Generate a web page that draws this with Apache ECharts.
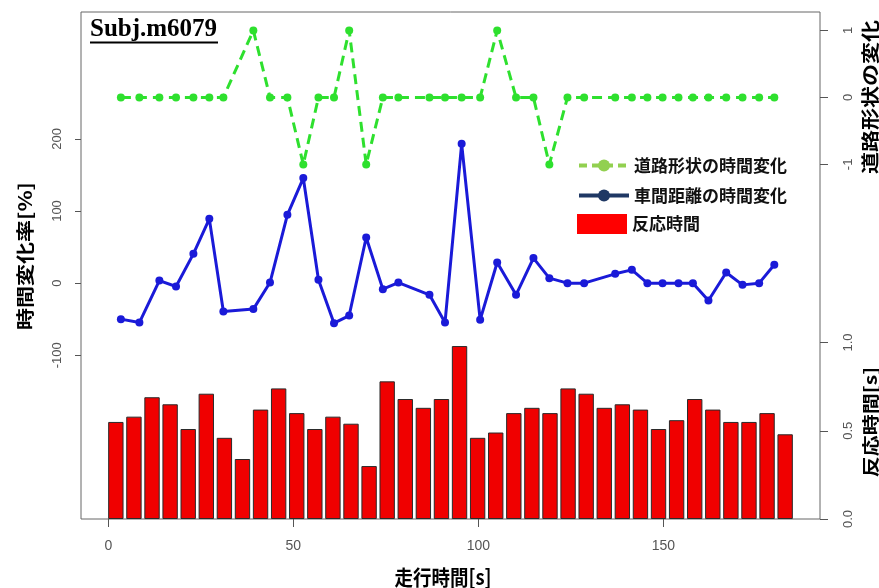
<!DOCTYPE html>
<html>
<head>
<meta charset="utf-8">
<script src="https://cdn.jsdelivr.net/npm/echarts@6/dist/echarts.min.js"></script>
<style>
  html, body { margin: 0; padding: 0; background: #fff; }
  #chart { width: 879px; height: 588px; }
</style>
</head>
<body>
<div id="chart"></div>
<script>
// Elapsed driving time of each sample [s]
const runTime = [3.4, 8.4, 13.8, 18.3, 23.0, 27.3, 31.1, 39.2, 43.7, 48.4,
  52.7, 56.8, 61.0, 65.1, 69.7, 74.2, 78.4, 86.8, 91.0, 95.5,
  100.5, 105.1, 110.2, 114.9, 119.2, 124.1, 128.6, 137.0, 141.5, 145.7,
  149.8, 154.1, 158.0, 162.2, 167.0, 171.4, 175.9, 180.0];

// Change of road shape (-1 / 0 / 1)
const roadShapeChange = [0, 0, 0, 0, 0, 0, 0, 1, 0, 0,
  -1, 0, 0, 1, -1, 0, 0, 0, 0, 0,
  0, 1, 0, 0, -1, 0, 0, 0, 0, 0,
  0, 0, 0, 0, 0, 0, 0, 0];

// Rate of change of headway distance [%]
const headwayChangeRate = [-49.9, -54.6, 3.6, -4.7, 40.6, 89.1, -39.4, -36.0, 0.8, 94.7,
  145.6, 4.6, -55.5, -44.9, 63.2, -8.3, 0.8, -16.2, -54.6, 193.1,
  -50.9, 28.6, -16.2, 34.7, 6.9, 0, 0, 12.9, 18.4, 0,
  0, 0, 0, -24.1, 14.7, -2.4, 0, 25.4];

// Reaction time per event [s]
const eventNo = ['1', '2', '3', '4', '5', '6', '7', '8', '9', '10',
  '11', '12', '13', '14', '15', '16', '17', '18', '19', '20',
  '21', '22', '23', '24', '25', '26', '27', '28', '29', '30',
  '31', '32', '33', '34', '35', '36', '37', '38'];
const reactionTime = [0.55, 0.58, 0.69, 0.65, 0.51, 0.71, 0.46, 0.34, 0.62, 0.74,
  0.60, 0.51, 0.58, 0.54, 0.30, 0.78, 0.68, 0.63, 0.68, 0.98,
  0.46, 0.49, 0.60, 0.63, 0.60, 0.74, 0.71, 0.63, 0.65, 0.62,
  0.51, 0.56, 0.68, 0.62, 0.55, 0.55, 0.60, 0.48];

// Tick positions
const timeTicks = [0, 50, 100, 150];
const rateTicks = [-100, 0, 100, 200];
const roadTicks = [-1, 0, 1];
const reactionTicks = [0, 0.5, 1.0];

const NAME_ROAD = '道路形状の時間変化';
const NAME_HEADWAY = '車間距離の時間変化';
const NAME_REACTION = '反応時間';

const tickFont = { fontFamily: '"Liberation Sans", Arial, sans-serif', fontSize: 13, color: '#555' };
const tickLine = { color: '#555', width: 1 };
const jpBold = '"Noto Sans CJK JP", sans-serif';
const hiddenLine = { show: false, onZero: false };

const chart = echarts.init(document.getElementById('chart'), null, { renderer: 'canvas' });

chart.setOption({
  animation: false,
  backgroundColor: '#fff',
  grid: [
    { left: 81, right: 59, top: 12, bottom: 69, show: true, borderColor: '#666', borderWidth: 1,
      containLabel: false, outerBoundsMode: 'none' },
    { left: 106.8, right: 84.8, top: 12, bottom: 69, containLabel: false, outerBoundsMode: 'none' }
  ],
  xAxis: [
    {
      type: 'value', gridIndex: 0, position: 'bottom', min: -7.38, max: 192.35,
      axisLine: hiddenLine,
      splitLine: { show: false },
      axisTick: { customValues: timeTicks, length: 8, lineStyle: tickLine },
      axisLabel: { customValues: timeTicks, margin: 20, fontSize: 14,
        fontFamily: tickFont.fontFamily, color: tickFont.color }
    },
    {
      type: 'category', gridIndex: 1, data: eventNo, boundaryGap: true, show: false
    }
  ],
  yAxis: [
    {
      type: 'value', gridIndex: 0, position: 'left', min: -326.9, max: 375.8,
      axisLine: hiddenLine,
      splitLine: { show: false },
      axisTick: { customValues: rateTicks, length: 6, lineStyle: tickLine },
      axisLabel: Object.assign({ customValues: rateTicks, rotate: 90, margin: 17 }, tickFont)
    },
    {
      type: 'value', gridIndex: 0, position: 'right', min: -6.296, max: 1.276,
      axisLine: hiddenLine,
      splitLine: { show: false },
      axisTick: { customValues: roadTicks, length: 8, lineStyle: tickLine },
      axisLabel: Object.assign({ customValues: roadTicks, rotate: 90, margin: 22 }, tickFont)
    },
    {
      type: 'value', gridIndex: 0, position: 'right', min: 0, max: 2.873,
      axisLine: hiddenLine,
      splitLine: { show: false },
      axisTick: { customValues: reactionTicks, length: 8, lineStyle: tickLine },
      axisLabel: Object.assign({ customValues: reactionTicks, rotate: 90, margin: 22,
        formatter: v => Number(v).toFixed(1) }, tickFont)
    },
    {
      type: 'value', gridIndex: 1, min: 0, max: 2.873, show: false
    }
  ],
  legend: [
    {
      data: [
        { name: NAME_ROAD, itemStyle: { color: '#92d050' }, lineStyle: { color: '#92d050', width: 4, type: [8, 5] } },
        { name: NAME_HEADWAY, itemStyle: { color: '#1f3864' }, lineStyle: { color: '#1f3864', width: 4, type: 'solid' } }
      ],
      orient: 'vertical', left: 572, top: 152,
      itemWidth: 50, itemHeight: 15, itemGap: 13,
      selectedMode: false,
      textStyle: { fontFamily: jpBold, fontSize: 17, fontWeight: 'bold', color: '#111' }
    },
    {
      data: [
        { name: NAME_REACTION, icon: 'rect', itemStyle: { color: '#ff0000', borderWidth: 0 } }
      ],
      orient: 'vertical', left: 572, top: 209,
      itemWidth: 50, itemHeight: 20,
      selectedMode: false,
      textStyle: { fontFamily: jpBold, fontSize: 17, fontWeight: 'bold', color: '#111' }
    }
  ],
  series: [
    {
      name: NAME_REACTION, type: 'bar',
      xAxisIndex: 1, yAxisIndex: 3,
      data: reactionTime,
      barCategoryGap: '15%',
      itemStyle: { color: '#f00000', borderColor: '#2a2a2a', borderWidth: 1 },
      z: 1
    },
    {
      name: NAME_ROAD, type: 'line',
      xAxisIndex: 0, yAxisIndex: 1,
      data: runTime.map((t, i) => [t, roadShapeChange[i]]),
      symbol: 'circle', symbolSize: 8,
      itemStyle: { color: '#2ee02e' },
      lineStyle: { color: '#2ee02e', width: 3, type: [10, 6] },
      z: 3
    },
    {
      name: NAME_HEADWAY, type: 'line',
      xAxisIndex: 0, yAxisIndex: 0,
      data: runTime.map((t, i) => [t, headwayChangeRate[i]]),
      symbol: 'circle', symbolSize: 8,
      itemStyle: { color: '#1a1ad8' },
      lineStyle: { color: '#1a1ad8', width: 3 },
      z: 3
    }
  ],
  graphic: [
    {
      type: 'text', x: 90, y: 17,
      style: { text: 'Subj.m6079', font: 'bold 25px "Liberation Serif", "Times New Roman", serif', fill: '#000',
        align: 'left', textAlign: 'left', verticalAlign: 'top', textVerticalAlign: 'top' }
    },
    {
      type: 'line', shape: { x1: 90, y1: 42.5, x2: 218, y2: 42.5 },
      style: { stroke: '#000', lineWidth: 2 }
    },
    {
      type: 'text', x: 25, y: 256, rotation: Math.PI / 2, scaleY: 0.82,
      style: { text: '時間変化率[%]', font: 'bold 22px ' + jpBold, fill: '#000',
        align: 'center', textAlign: 'center', verticalAlign: 'middle', textVerticalAlign: 'middle' }
    },
    {
      type: 'text', x: 870, y: 97, rotation: Math.PI / 2, scaleY: 0.82,
      style: { text: '道路形状の変化', font: 'bold 22px ' + jpBold, fill: '#000',
        align: 'center', textAlign: 'center', verticalAlign: 'middle', textVerticalAlign: 'middle' }
    },
    {
      type: 'text', x: 870, y: 422, rotation: Math.PI / 2, scaleY: 0.82,
      style: { text: '反応時間[s]', font: 'bold 21px ' + jpBold, fill: '#000',
        align: 'center', textAlign: 'center', verticalAlign: 'middle', textVerticalAlign: 'middle' }
    },
    {
      type: 'text', x: 443, y: 577, scaleX: 0.88,
      style: { text: '走行時間[s]', font: 'bold 21px ' + jpBold, fill: '#000',
        align: 'center', textAlign: 'center', verticalAlign: 'middle', textVerticalAlign: 'middle' }
    }
  ]
});
</script>
</body>
</html>
